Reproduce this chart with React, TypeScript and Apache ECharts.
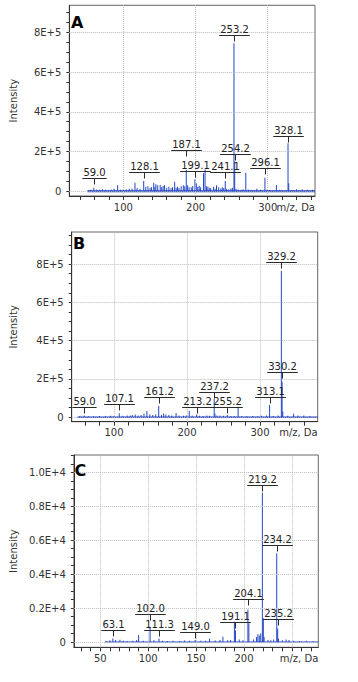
import React, { useEffect, useRef } from 'react';
import * as echarts from 'echarts';

// ---------- Panel A ----------
const A_PEAKS: [number, number][] = [
  [52, 6000], [55, 8000], [59.0, 17000], [63, 9000], [67, 7000], [71, 10000], [75, 8000], [79, 6000],
  [83, 9000], [87, 12000], [92, 30000], [96, 8000], [100, 10000], [104, 9000], [108, 12000], [112, 14000],
  [116, 43000], [119, 16000], [123, 12000], [128.1, 52000], [131, 22000], [134, 25000], [137, 18000],
  [139, 20000], [142, 43000], [143.5, 22000], [145, 35000], [147.5, 30000], [151, 32000], [153, 20000],
  [155, 26000], [157, 30000], [160, 18000], [163, 22000], [166, 15000], [168, 20000], [171, 48000],
  [173, 18000], [175, 22000], [177, 16000], [180, 25000], [183, 30000], [185, 25000], [187.1, 107000],
  [189, 30000], [191, 20000], [194, 20000], [196, 26000], [199.1, 60000], [201, 40000], [203, 22000],
  [205, 28000], [207, 20000], [211, 90000], [213.1, 110000], [215, 25000], [217, 22000], [219, 18000],
  [221, 15000], [225, 22000], [227, 12000], [229, 30000], [232, 20000], [235, 14000], [237, 20000],
  [239, 16000], [241.1, 52000], [243, 12000], [246, 10000], [249, 14000], [251, 18000], [253.2, 745000],
  [254.2, 150000], [256, 12000], [259, 9000], [263, 8000], [266, 10000], [269.6, 93000], [273, 9000],
  [277, 7000], [281, 6000], [285, 12000], [290, 7000], [296.1, 68000], [299, 8000], [303, 6000],
  [307, 5000], [312, 32000], [316, 7000], [320, 6000], [325, 5000], [328.1, 241000], [329.1, 40000],
  [332, 6000], [336, 5000], [340, 10000], [348, 9000], [355, 8000], [362, 7000],
];
const A_LABEL_MZ = [59.0, 128.1, 187.1, 199.1, 241.1, 253.2, 254.2, 296.1, 328.1];
const A_LABEL_Y = [65000, 97000, 206000, 104000, 97000, 786000, 189000, 116000, 280000];
const A_X_RANGE = [25, 365.5];
const A_Y_RANGE = [-24000, 936000];
const A_SCAN = [50, 365.5];
const A_X_LABELS = [100, 200, 300];
const A_X_TICKS = [40, 60, 80, 100, 120, 140, 160, 180, 200, 220, 240, 260, 280, 300, 320, 340, 360];
const A_Y_LABELS = [0, 200000, 400000, 600000, 800000];
const A_Y_TICKS = [0, 50000, 100000, 150000, 200000, 250000, 300000, 350000, 400000, 450000, 500000,
  550000, 600000, 650000, 700000, 750000, 800000, 850000, 900000];

// ---------- Panel B ----------
const B_PEAKS: [number, number][] = [
  [53, 5000], [59.0, 10000], [65, 6000], [72, 5000], [80, 7000], [88, 6000], [95, 8000], [100, 7000],
  [107.1, 21000], [112, 8000], [118, 9000], [122, 10000], [125, 12000], [129, 15000], [133, 10000],
  [137, 12000], [141, 18000], [145, 33000], [149, 15000], [153, 12000], [157, 14000], [161.2, 59000],
  [165, 12000], [168, 20000], [171, 15000], [175, 12000], [179, 10000], [185, 22000], [189, 9000],
  [195, 8000], [199, 10000], [203, 34000], [207, 10000], [213.2, 14000], [217, 8000], [222, 7000],
  [227, 9000], [231, 8000], [237.2, 95000], [238.2, 20000], [241, 10000], [245, 9000], [250, 8000],
  [255.2, 12000], [260, 7000], [265, 6000], [270, 55000], [275, 6000], [282, 6000], [290, 7000],
  [297, 6000], [302, 8000], [309, 9000], [313.1, 64000], [318, 7000], [325, 9000], [329.2, 765000],
  [330.2, 185000], [331.2, 30000], [338, 8000], [346, 19000], [352, 10000], [360, 9000], [368, 6000],
];
const B_LABEL_MZ = [59.0, 107.1, 161.2, 213.2, 237.2, 255.2, 313.1, 329.2, 330.2];
const B_LABEL_Y = [52000, 69500, 107600, 55400, 133700, 55400, 107600, 812500, 235000];
const B_X_RANGE = [42, 379];
const B_Y_RANGE = [-23000, 967600];
const B_SCAN = [50, 379];
const B_X_LABELS = [100, 200, 300];
const B_X_TICKS = [60, 80, 100, 120, 140, 160, 180, 200, 220, 240, 260, 280, 300, 320, 340, 360];
const B_Y_LABELS = [0, 200000, 400000, 600000, 800000];
const B_Y_TICKS = [0, 50000, 100000, 150000, 200000, 250000, 300000, 350000, 400000, 450000, 500000,
  550000, 600000, 650000, 700000, 750000, 800000, 850000, 900000, 950000];

// ---------- Panel C ----------
const C_PEAKS: [number, number][] = [
  [56, 60], [60, 100], [63.1, 200], [66, 120], [70.5, 140], [74, 80], [78, 60], [84, 80], [88, 120],
  [90, 420], [95, 80], [102.0, 900], [106, 100], [111.3, 200], [115, 80], [120, 60], [126, 70],
  [133, 60], [138, 90], [143, 70], [149.0, 120], [155, 80], [160, 70], [164, 190], [170, 90],
  [175, 120], [178, 310], [183, 100], [186, 120], [190, 1200], [191.1, 700], [195, 150], [199, 100],
  [204.1, 1900], [205.1, 1100], [210, 150], [213, 300], [214.5, 450], [216, 380], [217.5, 500],
  [219.2, 8800], [220.2, 1400], [221, 300], [225, 120], [228, 100], [231, 150], [234.2, 5230],
  [235.2, 800], [236, 200], [240, 100], [244, 150], [247, 120], [252, 80], [258, 60], [265, 70], [272, 50],
];
const C_LABEL_MZ = [63.1, 102.0, 111.3, 149.0, 191.1, 204.1, 219.2, 234.2, 235.2];
const C_LABEL_Y = [707, 1650, 707, 607, 1179, 2516, 9252, 5698, 1338];
const C_X_RANGE = [22.4, 277.6];
const C_Y_RANGE = [-312, 11020];
const C_SCAN = [55, 277.6];
const C_X_LABELS = [50, 100, 150, 200];
const C_X_TICKS = [30, 40, 50, 60, 70, 80, 90, 100, 110, 120, 130, 140, 150, 160, 170, 180, 190, 200,
  210, 220, 230, 240, 250, 260, 270];
const C_X_GRID = [50, 100, 150, 200, 250];
const C_Y_LABELS = [0, 2000, 4000, 6000, 8000, 10000];
const C_Y_TICKS = [0, 500, 1000, 1500, 2000, 2500, 3000, 3500, 4000, 4500, 5000, 5500, 6000, 6500,
  7000, 7500, 8000, 8500, 9000, 9500, 10000, 10500, 11000];

const FONT = 'DejaVu Sans';
const BLUE = '#2346c8';
const AXIS = '#333';

let measureCtx: CanvasRenderingContext2D | null = null;
function textWidth(t: string): number {
  if (!measureCtx) measureCtx = document.createElement('canvas').getContext('2d');
  if (!measureCtx) return t.length * 6;
  measureCtx.font = `10px "${FONT}"`;
  return measureCtx.measureText(t).width;
}

interface Panel {
  letter: string;
  peaks: [number, number][];
  labelMz: number[];
  labelY: number[];
  xRange: number[];
  yRange: number[];
  scan: number[];
  xLabels: number[];
  xTicks: number[];
  xGrid: number[];
  yLabels: number[];
  yTicks: number[];
  yFmt: (v: number) => string;
  grid: { left: number; top: number; width: number; height: number };
  letterPos: { left: number; top: number };
  baseWidth: number;
}

const PANELS: Panel[] = [
  {
    letter: 'A', peaks: A_PEAKS, labelMz: A_LABEL_MZ, labelY: A_LABEL_Y, xRange: A_X_RANGE,
    yRange: A_Y_RANGE, scan: A_SCAN, xLabels: A_X_LABELS, xTicks: A_X_TICKS, xGrid: A_X_LABELS,
    yLabels: A_Y_LABELS, yTicks: A_Y_TICKS,
    yFmt: (v) => (v === 0 ? '0' : `${Math.round(v / 1e5)}E+5`),
    grid: { left: 64.3, top: 5.3, width: 250.7, height: 190.7 },
    letterPos: { left: 71, top: 14 }, baseWidth: 2,
  },
  {
    letter: 'B', peaks: B_PEAKS, labelMz: B_LABEL_MZ, labelY: B_LABEL_Y, xRange: B_X_RANGE,
    yRange: B_Y_RANGE, scan: B_SCAN, xLabels: B_X_LABELS, xTicks: B_X_TICKS, xGrid: B_X_LABELS,
    yLabels: B_Y_LABELS, yTicks: B_Y_TICKS,
    yFmt: (v) => (v === 0 ? '0' : `${Math.round(v / 1e5)}E+5`),
    grid: { left: 66.7, top: 232, width: 251, height: 189.7 },
    letterPos: { left: 73, top: 235.5 }, baseWidth: 1.5,
  },
  {
    letter: 'C', peaks: C_PEAKS, labelMz: C_LABEL_MZ, labelY: C_LABEL_Y, xRange: C_X_RANGE,
    yRange: C_Y_RANGE, scan: C_SCAN, xLabels: C_X_LABELS, xTicks: C_X_TICKS, xGrid: C_X_GRID,
    yLabels: C_Y_LABELS, yTicks: C_Y_TICKS,
    yFmt: (v) => (v === 0 ? '0' : `${(v / 1e4).toFixed(1)}E+4`),
    grid: { left: 65.7, top: 455, width: 252.6, height: 192.3 },
    letterPos: { left: 74.5, top: 462.5 }, baseWidth: 1,
  },
];

function buildOption() {
  const grids: any[] = [];
  const xAxes: any[] = [];
  const yAxes: any[] = [];
  const series: any[] = [];
  const titles: any[] = [];

  PANELS.forEach((p, i) => {
    grids.push({
      ...p.grid, show: true, borderColor: '#666', borderWidth: 1, backgroundColor: 'transparent',
      containLabel: false,
    });
    titles.push({
      text: p.letter, left: p.letterPos.left, top: p.letterPos.top, padding: 0,
      textStyle: { fontFamily: FONT, fontSize: 16, fontWeight: 'bold', color: '#000' },
    });
    xAxes.push({
      gridIndex: i, type: 'value', min: p.xRange[0], max: p.xRange[1],
      axisLine: { show: true, onZero: false, lineStyle: { color: AXIS, width: 1 } },
      axisTick: { show: true, customValues: p.xTicks, length: 4, lineStyle: { color: AXIS } },
      minorTick: { show: false },
      axisLabel: { customValues: p.xLabels, margin: 6, color: AXIS, fontSize: 10, fontFamily: FONT },
      splitLine: { show: false },
      name: 'm/z, Da', nameLocation: 'end', nameGap: 0, nameMoveOverlap: false,
      nameTextStyle: {
        color: AXIS, fontSize: 10, fontFamily: FONT, align: 'right', verticalAlign: 'top',
        padding: [6, 0, 0, 0],
      },
    });
    yAxes.push({
      gridIndex: i, type: 'value', min: p.yRange[0], max: p.yRange[1],
      axisLine: { show: true, lineStyle: { color: AXIS, width: 1 } },
      axisTick: { show: true, customValues: p.yTicks, length: 3, lineStyle: { color: AXIS } },
      minorTick: { show: false },
      axisLabel: {
        customValues: p.yLabels, margin: 8, color: AXIS, fontSize: 10, fontFamily: FONT,
        formatter: p.yFmt,
      },
      splitLine: { show: false },
      name: 'Intensity', nameLocation: 'middle', nameGap: p.grid.left - 13,
      nameTextStyle: { color: AXIS, fontSize: 10, fontFamily: FONT },
    });

    // dotted grid lines
    series.push({
      type: 'line', xAxisIndex: i, yAxisIndex: i, data: [], z: 0, silent: true,
      markLine: {
        silent: true, symbol: ['none', 'none'], animation: false,
        label: { show: false },
        lineStyle: { type: 'dotted', color: '#bdbdbd', width: 1 },
        emphasis: { disabled: true },
        data: [
          ...p.xGrid.map((v) => ({ xAxis: v })),
          ...p.yLabels.map((v) => ({ yAxis: v })),
        ],
      },
    });
    // baseline of the scan
    series.push({
      type: 'line', xAxisIndex: i, yAxisIndex: i, z: 1, silent: true, symbol: 'none',
      data: [[p.scan[0], 0], [p.scan[1], 0]],
      lineStyle: { color: BLUE, width: p.baseWidth },
    });
    // spectrum peaks
    series.push({
      type: 'bar', xAxisIndex: i, yAxisIndex: i, z: 2, silent: true, barWidth: 1,
      data: p.peaks, itemStyle: { color: BLUE },
    });
    // peak annotations
    series.push({
      type: 'custom', xAxisIndex: i, yAxisIndex: i, z: 5, silent: true, clip: false,
      data: p.labelMz.map((m, k) => [m, p.labelY[k]]),
      renderItem: (params: any, api: any) => {
        const mz = p.labelMz[params.dataIndex];
        const pt = api.coord([api.value(0), api.value(1)]);
        const text = mz.toFixed(1);
        const w = textWidth(text);
        const x = Math.round(pt[0]) + 0.5;
        const y = Math.round(pt[1]) + 0.5;
        return {
          type: 'group',
          children: [
            { type: 'line', shape: { x1: x - w / 2 - 1, y1: y, x2: x + w / 2 + 1, y2: y },
              style: { stroke: '#2a2a2a', lineWidth: 1 } },
            { type: 'line', shape: { x1: x, y1: y, x2: x, y2: y + 6 },
              style: { stroke: '#2a2a2a', lineWidth: 1 } },
            { type: 'text', x, y: y - 1,
              style: { text, fill: '#222', font: `10px "${FONT}"`, align: 'center', verticalAlign: 'bottom' } },
          ],
        };
      },
    });
  });

  return {
    animation: false,
    backgroundColor: '#fff',
    textStyle: { fontFamily: FONT },
    title: titles,
    grid: grids,
    xAxis: xAxes,
    yAxis: yAxes,
    series,
  };
}

export default function App() {
  const ref = useRef<HTMLDivElement>(null);
  useEffect(() => {
    if (!ref.current) return;
    const chart = echarts.init(ref.current, undefined, { renderer: 'svg' });
    chart.setOption(buildOption() as any);
    return () => chart.dispose();
  }, []);
  return (
    <div
      ref={ref}
      style={{ position: 'fixed', left: 0, top: 0, width: 358, height: 682, background: '#fff' }}
    />
  );
}
